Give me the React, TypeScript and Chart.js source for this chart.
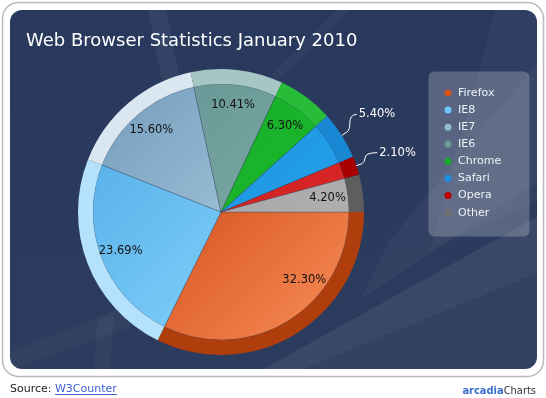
import { useEffect, useRef } from 'react';
import { Chart, registerables } from 'chart.js';

Chart.register(...registerables);

// ---- data ----
const browsers = ['Firefox', 'IE8', 'IE7', 'IE6', 'Chrome', 'Safari', 'Opera', 'Other'];
const shares = [32.3, 23.69, 15.6, 10.41, 6.3, 5.4, 2.1, 4.2];
const chartTitle = 'Web Browser Statistics January 2010';
const sourceLabel = 'Source: ';
const sourceName = 'W3Counter';

// ---- styles ----
const faceTL = ['#c43a08', '#56b0e8', '#7aa2c0', '#689694', '#14a826', '#1a8fdc', '#c81a1a', '#a0a0a0'];
const faceBR = ['#f4844f', '#8ad6ff', '#b8d4e8', '#80b0ac', '#20c030', '#28a4ee', '#dd2a2a', '#b2b2b2'];
const rimColors = ['#b03e0c', '#b4e2fc', '#dae7f1', '#a6c6c4', '#28bc38', '#1888d4', '#a80000', '#5e5e5e'];
const dotColors = ['#d4521a', '#6cc8fa', '#94b8d2', '#6a9a98', '#1aaa2a', '#1a8ee0', '#c00000', '#707070'];
const FONT = '"DejaVu Sans", "Bitstream Vera Sans", sans-serif';

function roundRect(ctx: CanvasRenderingContext2D, x: number, y: number, w: number, h: number, r: number) {
  ctx.beginPath();
  ctx.moveTo(x + r, y);
  ctx.lineTo(x + w - r, y);
  ctx.arcTo(x + w, y, x + w, y + r, r);
  ctx.lineTo(x + w, y + h - r);
  ctx.arcTo(x + w, y + h, x + w - r, y + h, r);
  ctx.lineTo(x + r, y + h);
  ctx.arcTo(x, y + h, x, y + h - r, r);
  ctx.lineTo(x, y + r);
  ctx.arcTo(x, y, x + r, y, r);
  ctx.closePath();
}

const backgroundPlugin = {
  id: 'frameBackground',
  beforeDraw(chart: any) {
    const ctx: CanvasRenderingContext2D = chart.ctx;
    const W = chart.width;
    ctx.save();
    ctx.fillStyle = '#ffffff';
    ctx.fillRect(0, 0, W, chart.height);
    // outer white frame
    roundRect(ctx, 2.5, 2.5, W - 5, 374, 16);
    ctx.fillStyle = '#ffffff';
    ctx.fill();
    ctx.strokeStyle = '#b9b9b9';
    ctx.lineWidth = 1.5;
    ctx.stroke();
    // navy panel
    roundRect(ctx, 10, 10, W - 20 + 1, 359, 12);
    const g = ctx.createLinearGradient(0, 10, 0, 369);
    g.addColorStop(0, '#29395d');
    g.addColorStop(1, '#2c3c5e');
    ctx.fillStyle = g;
    ctx.fill();
    ctx.clip();
    // light streaks
    const poly = (pts: number[][], a: number) => {
      ctx.beginPath();
      ctx.moveTo(pts[0][0], pts[0][1]);
      for (let i = 1; i < pts.length; i++) ctx.lineTo(pts[i][0], pts[i][1]);
      ctx.closePath();
      ctx.fillStyle = `rgba(255,255,255,${a})`;
      ctx.fill();
    };
    poly([[148, 10], [166, 10], [180, 80], [162, 80]], 0.05);
    poly([[336, 10], [350, 10], [278, 80], [266, 80]], 0.03);
    poly([[495, 10], [540, 10], [540, 200], [430, 250]], 0.03);
    poly([[540, 60], [540, 180], [360, 300], [390, 240]], 0.035);
    poly([[540, 215], [540, 272], [300, 370], [262, 370]], 0.07);
    poly([[540, 272], [540, 370], [300, 370]], 0.035);
    poly([[10, 352], [120, 308], [200, 302], [10, 370]], 0.035);
    poly([[97, 322], [114, 312], [110, 370], [94, 370]], 0.035);
    ctx.restore();
  },
};

const decorPlugin = {
  id: 'decor',
  afterDatasetsDraw(chart: any) {
    const ctx: CanvasRenderingContext2D = chart.ctx;
    const rimMeta = chart.getDatasetMeta(0);
    const faceMeta = chart.getDatasetMeta(1);
    const data: number[] = chart.data.datasets[1].data;
    const outside: Record<number, number[]> = { 5: [17, -21], 6: [23, -13] };
    const angleShift: Record<number, number> = { 0: -0.33 };
    ctx.save();
    ctx.font = `11.5px ${FONT}`;
    ctx.textBaseline = 'middle';
    data.forEach((v, i) => {
      const arc = faceMeta.data[i];
      const rim = rimMeta.data[i];
      const mid = (arc.startAngle + arc.endAngle) / 2 + (angleShift[i] || 0);
      const txt = v.toFixed(2) + '%';
      if (outside[i]) {
        const R = rim.outerRadius;
        const ex = rim.x + Math.cos(mid) * R;
        const ey = rim.y + Math.sin(mid) * R;
        const px = ex + Math.cos(mid) * 6;
        const py = ey + Math.sin(mid) * 6;
        const tx = ex + outside[i][0];
        const ty = ey + outside[i][1];
        ctx.beginPath();
        ctx.moveTo(ex, ey);
        ctx.lineTo(px, py);
        ctx.quadraticCurveTo(px + 3, py - 2, px + 3, (py + ty) / 2);
        ctx.quadraticCurveTo(px + 3, ty, tx - 2, ty);
        ctx.strokeStyle = '#ffffff';
        ctx.lineWidth = 1;
        ctx.stroke();
        ctx.fillStyle = '#ffffff';
        ctx.textAlign = 'left';
        ctx.fillText(txt, tx, ty);
      } else {
        const r = arc.outerRadius * 0.84;
        ctx.fillStyle = '#111111';
        ctx.textAlign = 'center';
        ctx.fillText(txt, arc.x + Math.cos(mid) * r, arc.y + Math.sin(mid) * r);
      }
    });

    // title
    ctx.fillStyle = '#ffffff';
    ctx.textAlign = 'left';
    ctx.textBaseline = 'alphabetic';
    ctx.font = `18px ${FONT}`;
    ctx.fillText(chartTitle, 26, 46);

    // legend
    roundRect(ctx, 428.5, 71.5, 101, 165, 6);
    ctx.fillStyle = 'rgba(255,255,255,0.22)';
    ctx.fill();
    ctx.font = `11px ${FONT}`;
    ctx.textBaseline = 'middle';
    (chart.data.labels as string[]).forEach((lab, i) => {
      const y = 93 + i * 17.1;
      ctx.beginPath();
      ctx.arc(448, y, 3.5, 0, Math.PI * 2);
      ctx.fillStyle = dotColors[i];
      ctx.fill();
      ctx.fillStyle = '#eef1f6';
      ctx.fillText(lab, 458, y);
    });

    // footer
    ctx.textBaseline = 'alphabetic';
    ctx.font = `11px ${FONT}`;
    ctx.fillStyle = '#222222';
    ctx.fillText(sourceLabel, 10, 392);
    const sw = ctx.measureText(sourceLabel).width;
    ctx.fillStyle = '#3a5fcd';
    ctx.fillText(sourceName, 10 + sw, 392);
    const nw = ctx.measureText(sourceName).width;
    ctx.fillRect(10 + sw, 394, nw, 1);
    const a = 'arcadia';
    ctx.font = `11px "DejaVu Sans Condensed", ${FONT}`;
    const cw = ctx.measureText('Charts').width;
    ctx.fillStyle = '#333333';
    ctx.fillText('Charts', 536 - cw, 394);
    ctx.font = `bold 11px "DejaVu Sans Condensed", ${FONT}`;
    const aw = ctx.measureText(a).width;
    ctx.fillStyle = '#3a6fd0';
    ctx.fillText(a, 536 - cw - aw, 394);
    ctx.restore();
  },
};

export default function App() {
  const ref = useRef<HTMLCanvasElement | null>(null);
  useEffect(() => {
    document.body.style.margin = '0';
    const canvas = ref.current;
    if (!canvas) return;
    const chart = new Chart(canvas, {
      type: 'pie',
      data: {
        labels: browsers,
        datasets: [
          {
            data: shares,
            backgroundColor: rimColors,
            borderWidth: 0,
            weight: 15,
          } as any,
          {
            data: shares,
            backgroundColor: (c: any) => {
              const ch = c.chart;
              const area = ch.chartArea;
              const i = c.dataIndex;
              if (!area) return faceBR[i];
              const g = ch.ctx.createLinearGradient(area.left, area.top, area.right, area.bottom);
              g.addColorStop(0.15, faceTL[i]);
              g.addColorStop(0.85, faceBR[i]);
              return g;
            },
            borderWidth: 0.8,
            borderColor: 'rgba(40,60,85,0.35)',
            weight: 128,
          } as any,
        ],
      },
      options: {
        responsive: false,
        animation: false,
        devicePixelRatio: 1,
        rotation: 90,
        layout: { padding: { left: 78, top: 69, right: 182, bottom: 43 } },
        plugins: {
          legend: { display: false },
          tooltip: { enabled: false },
          title: { display: false },
        },
      },
      plugins: [backgroundPlugin, decorPlugin],
    });
    return () => chart.destroy();
  }, []);
  return <canvas ref={ref} width={546} height={398} style={{ display: 'block' }} />;
}
